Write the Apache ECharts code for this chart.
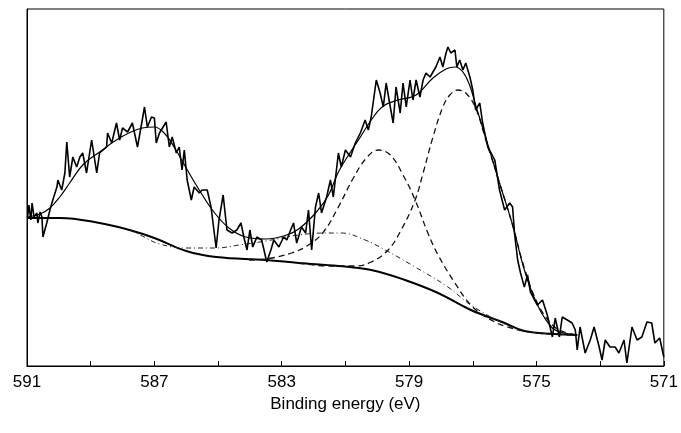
<!DOCTYPE html>
<html>
<head>
<meta charset="utf-8">
<script src="https://cdn.jsdelivr.net/npm/echarts@6/dist/echarts.min.js"></script>
<style>
  html, body { margin: 0; padding: 0; background: #fff; }
  #chart { width: 681px; height: 433px; }
</style>
</head>
<body>
<div id="chart"></div>
<script>
// measured spectrum (binding energy in eV, intensity in a.u.)
var rawEnergy = [590.98,590.94,590.88,590.84,590.78,590.69,590.66,590.59,590.53,590.50,590.38,590.28,590.19,590.06,590.03,589.91,589.81,589.75,589.66,589.56,589.44,589.34,589.25,589.13,588.97,588.81,588.72,588.50,588.47,588.34,588.19,588.09,588.00,587.84,587.69,587.53,587.38,587.31,587.22,587.09,587.00,586.94,586.84,586.63,586.53,586.44,586.31,586.22,586.13,586.06,585.97,585.84,585.75,585.59,585.50,585.34,585.22,585.06,584.97,584.84,584.72,584.56,584.41,584.28,584.19,584.09,584.00,583.91,583.78,583.63,583.47,583.34,583.25,583.09,582.94,582.84,582.72,582.63,582.53,582.38,582.25,582.16,582.06,581.94,581.84,581.75,581.59,581.47,581.38,581.22,581.13,581.00,580.84,580.69,580.53,580.38,580.28,580.19,580.03,579.91,579.81,579.72,579.59,579.50,579.41,579.28,579.19,579.09,578.97,578.88,578.78,578.66,578.56,578.47,578.34,578.25,578.16,578.03,577.94,577.84,577.78,577.69,577.56,577.50,577.41,577.31,577.22,577.09,577.00,576.91,576.78,576.69,576.53,576.44,576.31,576.16,576.00,575.84,575.75,575.69,575.59,575.50,575.38,575.28,575.19,575.06,574.97,574.81,574.66,574.50,574.41,574.28,574.19,574.03,573.88,573.78,573.72,573.63,573.47,573.31,573.19,573.03,572.94,572.84,572.69,572.53,572.41,572.25,572.16,572.00,571.84,571.69,571.53,571.38,571.28,571.13,571.00];
var rawCounts = [149,161,146,163,149,153,143,154,149,129,143,156,166,179,186,176,193,224,189,209,199,209,213,193,226,193,213,219,233,223,243,226,238,234,243,219,246,259,239,249,248,223,233,244,219,229,213,219,196,216,186,166,179,173,176,176,159,118,146,171,136,133,136,143,129,116,136,119,129,126,104,116,126,119,129,126,136,143,123,139,133,156,116,159,173,153,169,186,169,213,199,216,209,223,233,246,236,249,286,273,259,283,259,243,279,253,283,259,286,266,286,269,286,293,289,294,299,309,299,313,319,313,316,299,306,296,303,289,276,256,263,243,219,214,206,176,156,163,159,133,106,93,79,91,74,66,61,66,51,29,48,29,49,46,43,36,16,39,13,26,39,19,6,26,19,19,13,26,3,39,26,29,44,43,23,28,9];

// fitted envelope
var fitEnergy = [591.00,590.59,590.28,589.97,589.66,589.25,588.72,588.09,587.38,587.00,586.69,586.38,586.00,585.59,585.13,584.66,584.13,583.50,582.94,582.47,581.91,581.53,581.22,580.84,580.53,580.19,579.81,579.34,578.78,578.25,577.84,577.56,577.31,577.09,576.91,576.59,576.16,575.75,575.38,574.97,574.50,574.13,573.72];
var fitCounts = [149,152,158,169,183,201,214,228,238,239,233,219,198,176,154,138,129,127,130,137,154,171,194,214,229,246,260,266,271,288,297,299,294,280,261,228,183,141,96,61,38,33,31];

// Shirley background
var bgEnergy = [591.00,589.97,588.72,587.78,587.00,586.00,585.06,583.50,582.47,581.22,580.19,579.13,578.09,577.06,576.00,575.38,574.44,573.72];
var bgCounts = [148,148,143,136,128,115,109,106,103,100,96,86,73,56,43,35,32,31];

// component near 580 eV
var peakAEnergy = [584.03,583.50,582.69,582.16,581.69,581.22,580.75,580.34,579.97,579.59,579.19,578.81,578.41,578.09,577.56,577.06,576.53,575.91,574.97,573.72];
var peakACounts = [106,107,113,121,134,159,188,208,216,211,191,166,133,111,83,61,48,39,33,31];

// component near 577.5 eV
var peakBEnergy = [582.47,581.53,580.69,580.19,579.66,579.25,578.81,578.56,578.25,577.94,577.72,577.47,577.22,576.91,576.59,576.16,575.75,575.38,574.97,574.50,574.13,573.72];
var peakBCounts = [103,100,100,104,116,136,166,193,229,259,271,276,273,258,226,183,141,98,63,41,34,31];

// broad component
var peakCEnergy = [587.78,587.38,586.84,586.00,585.06,584.34,583.50,582.47,581.63,581.13,580.38,579.75,578.81,577.78,577.06,576.00,575.38,574.44,573.72];
var peakCCounts = [136,130,122,118,118,121,125,131,133,133,126,116,99,79,61,42,35,32,31];

function pairs(xs, ys) {
    var out = [];
    for (var i = 0; i < xs.length; i++) out.push([xs[i], ys[i]]);
    return out;
}

var myChart = echarts.init(document.getElementById('chart'));
var option = {
    animation: false,
    backgroundColor: '#fff',
    grid: {
        left: 27, right: 14, top: 9, bottom: 67,
        show: true, borderColor: '#000', borderWidth: 1
    },
    xAxis: {
        type: 'value',
        inverse: true,
        min: 571, max: 591, interval: 2,
        name: 'Binding energy (eV)',
        nameLocation: 'middle',
        nameGap: 30,
        nameTextStyle: { fontFamily: 'Liberation Sans', fontSize: 17, color: '#000' },
        axisLine: { lineStyle: { color: '#000', width: 1 } },
        axisTick: { inside: true, length: 5, lineStyle: { color: '#000' } },
        splitLine: { show: false },
        axisLabel: {
            margin: 8,
            fontFamily: 'Liberation Sans', fontSize: 17, color: '#000',
            formatter: function (v) { return (591 - v) % 4 === 0 ? String(v) : ''; }
        }
    },
    yAxis: {
        type: 'value',
        min: 0, max: 357,
        axisLine: { show: true, lineStyle: { color: '#000' } },
        axisTick: { show: false },
        axisLabel: { show: false },
        splitLine: { show: false }
    },
    series: [
        {
            name: 'background', type: 'line', data: pairs(bgEnergy, bgCounts),
            smooth: 0.4, symbol: 'none',
            lineStyle: { color: '#000', width: 2 }
        },
        {
            name: 'broad', type: 'line', data: pairs(peakCEnergy, peakCCounts),
            smooth: 0.4, symbol: 'none',
            lineStyle: { color: '#222', width: 1, type: [5, 3, 1, 3] }
        },
        {
            name: 'peak A', type: 'line', data: pairs(peakAEnergy, peakACounts),
            smooth: 0.4, symbol: 'none',
            lineStyle: { color: '#111', width: 1.3, type: [6, 4] }
        },
        {
            name: 'peak B', type: 'line', data: pairs(peakBEnergy, peakBCounts),
            smooth: 0.4, symbol: 'none',
            lineStyle: { color: '#111', width: 1.3, type: [6, 4] }
        },
        {
            name: 'envelope', type: 'line', data: pairs(fitEnergy, fitCounts),
            smooth: 0.4, symbol: 'none',
            lineStyle: { color: '#000', width: 1.2 }
        },
        {
            name: 'raw', type: 'line', data: pairs(rawEnergy, rawCounts),
            symbol: 'none',
            lineStyle: { color: '#000', width: 1.6 }
        }
    ]
};
myChart.setOption(option);
</script>
</body>
</html>
